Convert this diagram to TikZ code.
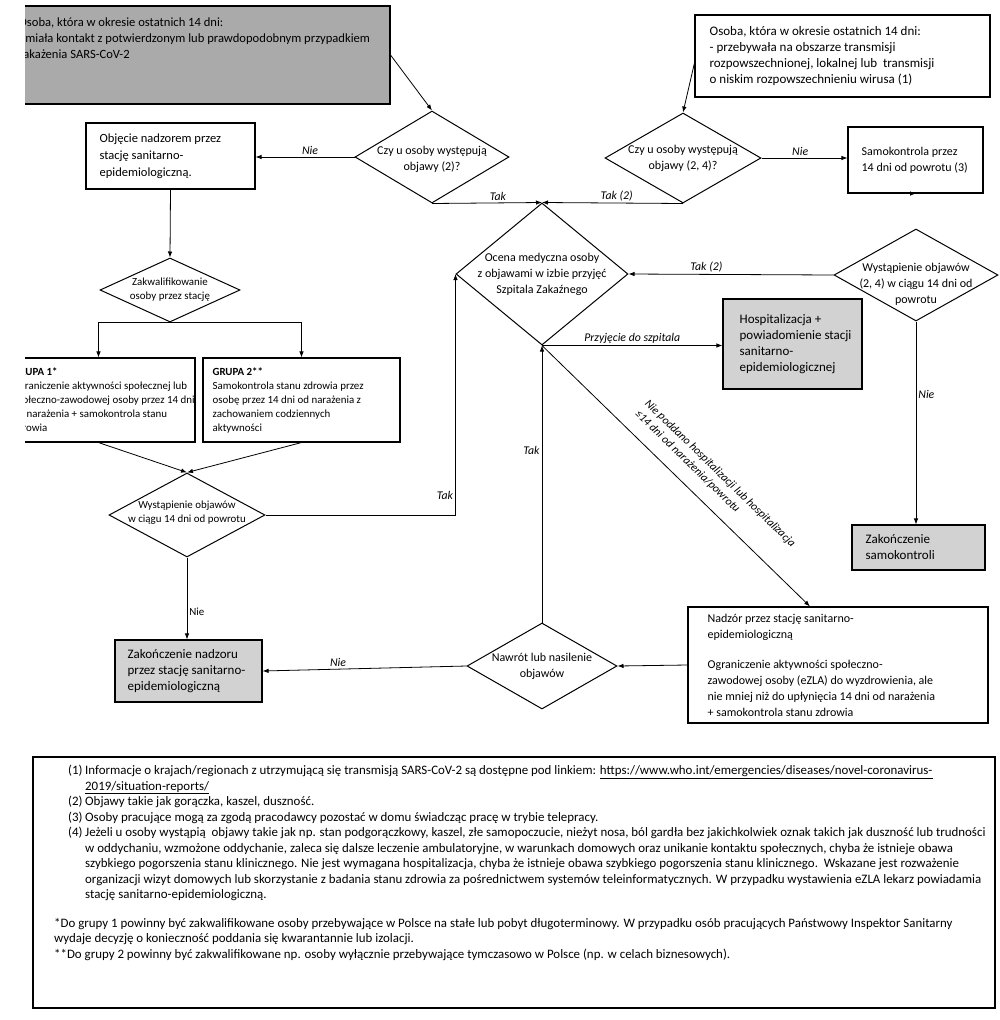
\documentclass[tikz,border=0pt]{standalone}
\usepackage{fontspec}
\setmainfont{Carlito}
\usetikzlibrary{shapes.geometric}
\usetikzlibrary{arrows.meta}
\usetikzlibrary{calc}
\definecolor{szary1}{RGB}{170,170,170}
\definecolor{szary2}{RGB}{210,210,210}

\newcommand{\duzy}{\fontsize{12pt}{16pt}\selectfont}
\newcommand{\wiekszy}{\fontsize{13pt}{16pt}\selectfont}
\newcommand{\maly}{\fontsize{10.9pt}{14pt}\selectfont}
\newcommand{\etyk}{\fontsize{11.8pt}{13pt}\selectfont\itshape}
\newcommand{\przyp}{\fontsize{12.9pt}{15.5pt}\selectfont}
\newcommand{\pkt}[1]{\hspace*{14pt}\makebox[17pt][l]{(#1)}}
\newcommand{\dalej}{\hspace*{31pt}}

\begin{document}
\begin{tikzpicture} [
    x=1pt, y=-1pt,
    f/.style={draw=black,line width=0.8pt,-{Latex[length=6pt,width=4.5pt]}},
    blok/.style={
        draw, line width=1.1pt,
        inner sep=0pt
    },
    szary/.style={blok,fill=szary2},
    romb/.style={draw,line width=1pt,diamond,inner sep=0pt},
    tekst/.style={anchor=west,align=left,inner sep=0pt,font=\duzy,xshift=#1},
    tekst/.default=14pt,
    srodek/.style={align=center,inner sep=0pt,font=\duzy},
    napis/.style={font=\etyk,inner sep=2pt}
]
\useasboundingbox (0,0) rectangle (1000,1020);

% lewy brzeg skanu jest obciety
\begin{scope}
\clip (25,0) rectangle (1000,460);
\node [blok,fill=szary1,minimum width=381pt,minimum height=98pt,
    label={[tekst=10pt,font=\fontsize{12.6pt}{16pt}\selectfont,anchor=north west,yshift=-12pt]north west:Osoba, która w okresie ostatnich 14 dni:\\- miała kontakt z potwierdzonym lub prawdopodobnym przypadkiem\\zakażenia SARS-CoV-2}]
    (osoba1) at (199.5,55) {};
\node [blok,minimum width=193pt,minimum height=84pt,
    label={[tekst=11pt,font=\maly]west:\textbf{GRUPA 1*}\\Ograniczenie aktywności społecznej lub\\społeczno-zawodowej osoby przez 14 dni\\od narażenia + samokontrola stanu\\zdrowia}]
    (grupa1) at (98.5,400) {};
\end{scope}

\node [blok,minimum width=295pt,minimum height=82pt,
    label={[tekst=15pt,font=\wiekszy]west:Osoba, która w okresie ostatnich 14 dni:\\- przebywała na obszarze transmisji\\rozpowszechnionej, lokalnej lub\ \ transmisji\\o niskim rozpowszechnieniu wirusa (1)}]
    (osoba2) at (842.5,56) {};
\node [blok,minimum width=169pt,minimum height=66pt,
    label={[tekst,font=\fontsize{12.5pt}{17pt}\selectfont]west:Objęcie nadzorem przez\\stację sanitarno-\\epidemiologiczną.}]
    (objecie) at (170.5,156) {};
\node [blok,minimum width=135pt,minimum height=66pt,
    label={[tekst]west:Samokontrola przez\\14 dni od powrotu (3)}]
    (samokontrola) at (915.5,160) {};
\node [szary,minimum width=139pt,minimum height=90pt,
    label={[tekst=17pt,font=\wiekszy]west:Hospitalizacja +\\powiadomienie stacji\\sanitarno-\\epidemiologicznej}]
    (szpital) at (792.5,344) {};
\node [blok,minimum width=197pt,minimum height=84pt,
    label={[tekst=10pt,font=\maly]west:\textbf{GRUPA 2**}\\Samokontrola stanu zdrowia przez\\osobę przez 14 dni od narażenia z\\zachowaniem codziennych\\aktywności}]
    (grupa2) at (301.5,400) {};
\node [szary,minimum width=133pt,minimum height=45pt,
    label={[tekst,font=\wiekszy]west:Zakończenie\\samokontroli}]
    (koniec2) at (918.5,547.5) {};
\node [blok,minimum width=300pt,minimum height=116pt,
    label={[tekst=20pt]west:Nadzór przez stację sanitarno-\\epidemiologiczną\\[14pt]Ograniczenie aktywności społeczno-\\zawodowej osoby (eZLA) do wyzdrowienia, ale\\nie mniej niż do upłynięcia 14 dni od narażenia\\+ samokontrola stanu zdrowia}]
    (nadzor) at (838,665) {};
\node [szary,minimum width=147pt,minimum height=62pt,
    label={[tekst=13pt,font=\wiekszy]west:Zakończenie nadzoru\\przez stację sanitarno-\\epidemiologiczną}]
    (koniec1) at (188.5,671) {};

% romby
\node [romb,minimum width=154pt,minimum height=92pt,
    label={[srodek,yshift=-2pt]center:Czy u osoby występują\\objawy (2)?}] (czy1) at (432,157) {};
\node [romb,minimum width=156pt,minimum height=90pt,
    label={[srodek]center:Czy u osoby występują\\objawy (2, 4)?}] (czy2) at (683,158) {};
\node [romb,minimum width=164pt,minimum height=92pt,
    label={[srodek,yshift=-9pt]center:Wystąpienie objawów\\(2, 4) w ciągu 14 dni od\\powrotu}] (wystapienie2) at (916,275) {};
\node [romb,minimum width=172pt,minimum height=142pt,
    label={[srodek]center:Ocena medyczna osoby\\z objawami w izbie przyjęć\\Szpitala Zakaźnego}] (ocena) at (542,274) {};
\node [romb,minimum width=150pt,minimum height=86pt,
    label={[srodek]center:Nawrót lub nasilenie\\objawów}] (nawrot) at (542,666) {};
\node [romb,minimum width=140pt,minimum height=64pt,
    label={[srodek,font=\maly]center:Zakwalifikowanie\\osoby przez stację}] (kwalifikacja) at (170,290) {};
\node [romb,minimum width=156pt,minimum height=84pt,
    label={[srodek,font=\maly,yshift=2pt]center:Wystąpienie objawów\\w ciągu 14 dni od powrotu}] (wystapienie1) at (187,515) {};

% strzalki
\draw [f] (osoba1.east) -- (czy1.north);
\draw [f] ([yshift=-7pt]osoba2.west) -- (czy2.north);
\draw [f] (czy1.west) -- (czy1.west -| objecie.east) node [napis,above,pos=0.45] {Nie};
\draw [f] (czy1.south) -- (ocena.north) node [napis,above,pos=0.6] {Tak};
\draw [f] (czy2.south) -- (ocena.north) node [napis,above,pos=0.47] {Tak (2)};
\draw [f] (czy2.east) -- (czy2.east -| samokontrola.west) node [napis,above,pos=0.45] {Nie};
\draw [f] (samokontrola.south) -- (samokontrola.south -| wystapienie2.north);
\draw [f] (wystapienie2.west) -- (ocena.east) node [napis,above,pos=0.62] {Tak (2)};
\draw [f] (wystapienie2.south) -- (wystapienie2.south |- koniec2.north) node [napis,right,pos=0.36] {Nie};
\draw [f] (ocena.south) -- (ocena.south -| szpital.west) node [napis,above,pos=0.5] {Przyjęcie do szpitala};
\draw [f] (ocena.south) -- ([xshift=-28pt]nadzor.north)
    node [napis,sloped,above=11pt,align=left,pos=0.58,font=\fontsize{11.5pt}{14pt}\selectfont\itshape] {Nie poddano hospitalizacji lub hospitalizacja\\≤14 dni od narażenia/powrotu};
\draw [f] (nawrot.north) -- (ocena.south) node [napis,left,pos=0.62] {Tak};
\draw [f] (nadzor.west) -- (nawrot.east);
\draw [f] (nawrot.west) -- (koniec1.east) node [napis,above,pos=0.63] {Nie};

\draw [f] (objecie.south) -- (kwalifikacja.north);
\draw [f] (kwalifikacja.south) -| (grupa1.north);
\draw [f] (kwalifikacja.south) -| (grupa2.north);
\draw [f] (grupa1.south) -- (wystapienie1.north);
\draw [f] (grupa2.south) -- (wystapienie1.north);
\draw [f] (wystapienie1.east) -| (ocena.west) node [napis,left,pos=0.54] {Tak};
\draw [f] (wystapienie1.south) -- (wystapienie1.south |- koniec1.north) node [napis,right,pos=0.66,font=\maly] {Nie};

% przypisy
\draw [line width=1.1pt] (33,757) rectangle (995,1008);
\node [anchor=north west,align=left,inner sep=0pt,font=\przyp] (przypisy) at (54,765) {%
\pkt{1}Informacje o krajach/regionach z utrzymującą się transmisją SARS-CoV-2 są dostępne pod linkiem: \underline{https://www.who.int/emergencies/diseases/novel-coronavirus-}\\
\dalej\underline{2019/situation-reports/}\\
\pkt{2}Objawy takie jak gorączka, kaszel, duszność.\\
\pkt{3}Osoby pracujące mogą za zgodą pracodawcy pozostać w domu świadcząc pracę w trybie telepracy.\\
\pkt{4}Jeżeli u osoby wystąpią\ \ objawy takie jak np. stan podgorączkowy, kaszel, złe samopoczucie, nieżyt nosa, ból gardła bez jakichkolwiek oznak takich jak duszność lub trudności\\
\dalej w oddychaniu, wzmożone oddychanie, zaleca się dalsze leczenie ambulatoryjne, w warunkach domowych oraz unikanie kontaktu społecznych, chyba że istnieje obawa\\
\dalej szybkiego pogorszenia stanu klinicznego. Nie jest wymagana hospitalizacja, chyba że istnieje obawa szybkiego pogorszenia stanu klinicznego.\ \ Wskazane jest rozważenie\\
\dalej organizacji wizyt domowych lub skorzystanie z badania stanu zdrowia za pośrednictwem systemów teleinformatycznych. W przypadku wystawienia eZLA lekarz powiadamia\\
\dalej stację sanitarno-epidemiologiczną.\\[13pt]
{}*Do grupy 1 powinny być zakwalifikowane osoby przebywające w Polsce na stałe lub pobyt długoterminowy. W przypadku osób pracujących Państwowy Inspektor Sanitarny\\
wydaje decyzję o konieczność poddania się kwarantannie lub izolacji.\\
{}**Do grupy 2 powinny być zakwalifikowane np. osoby wyłącznie przebywające tymczasowo w Polsce (np. w celach biznesowych).};

\end{tikzpicture}
\end{document}
